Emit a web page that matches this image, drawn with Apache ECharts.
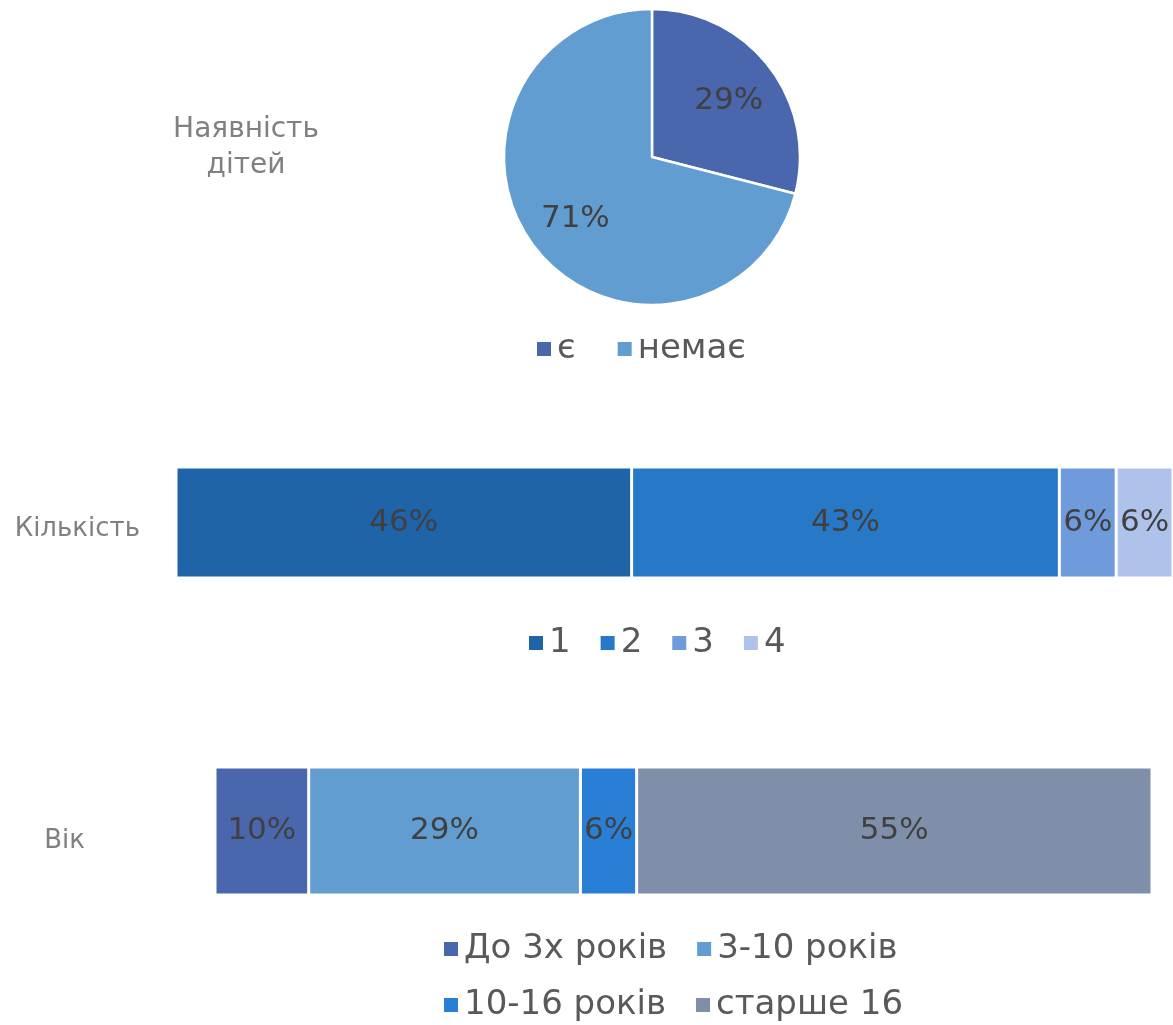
<!DOCTYPE html>
<html>
<head>
<meta charset="utf-8">
<script src="https://cdn.jsdelivr.net/npm/echarts@6/dist/echarts.min.js"></script>
<style>
html,body{margin:0;padding:0;background:#fff;}
#c{width:1173px;height:1025px;}
</style>
</head>
<body>
<div id="c"></div>
<script>
// Data
const pieNames = ['є', 'немає'];
const pieValues = [29, 71];

const countCategory = ['Кількість'];
const countNames = ['1', '2', '3', '4'];
const countValues = [45.7, 42.9, 5.7, 5.7];

const ageCategory = ['Вік'];
const ageNames = ['До 3х років', '3-10 років', '10-16 років', 'старше 16'];
const ageValues = [10, 29, 6, 55];

const pieColors = ['#4A66AC', '#629DD1'];
const countColors = ['#1F63A8', '#2878C8', '#6F9BDC', '#AFC3EA'];
const ageColors = ['#4A66AC', '#629DD1', '#297FD5', '#7F8FA9'];

const FONT = 'DejaVu Sans';
const pct = p => Math.round(p.value) + '%';
const labelStyle = { show: true, position: 'inside', formatter: pct, fontFamily: FONT, fontSize: 31, color: '#404040' };

const chart = echarts.init(document.getElementById('c'));

const series = [];
series.push({
  type: 'pie', center: [652, 157], radius: 148, startAngle: 90, clockwise: true,
  label: { show: false }, labelLine: { show: false }, silent: true,
  itemStyle: { borderColor: '#fff', borderWidth: 2.5 },
  data: pieNames.map((n, i) => ({ name: n, value: pieValues[i], itemStyle: { color: pieColors[i] } }))
});
series.push({
  type: 'pie', center: [652, 160], radius: [40, 148], startAngle: 90, clockwise: true, silent: true,
  label: { show: true, position: 'inside', formatter: pct, fontFamily: FONT, fontSize: 31, color: '#404040' },
  labelLine: { show: false },
  itemStyle: { color: 'rgba(0,0,0,0)' },
  data: pieNames.map((n, i) => ({ name: n + ' ', value: pieValues[i] }))
});
countNames.forEach((n, i) => series.push({
  type: 'bar', name: n, stack: 'count', xAxisIndex: 0, yAxisIndex: 0, barWidth: 111,
  itemStyle: { color: countColors[i], borderColor: '#fff', borderWidth: 1.5 },
  label: labelStyle, data: [countValues[i]]
}));
ageNames.forEach((n, i) => series.push({
  type: 'bar', name: n, stack: 'age', xAxisIndex: 1, yAxisIndex: 1, barWidth: 128,
  itemStyle: { color: ageColors[i], borderColor: '#fff', borderWidth: 1.5 },
  label: labelStyle, data: [ageValues[i]]
}));

const legendText = { fontFamily: FONT, fontSize: 34, color: '#595959' };
const legendBase = { icon: 'rect', itemWidth: 16, itemHeight: 16, textStyle: legendText, selectedMode: false };

chart.setOption({
  animation: false,
  backgroundColor: '#fff',
  title: {
    text: 'Наявність\nдітей', left: 241, top: 107, textAlign: 'center',
    textStyle: { fontFamily: FONT, fontSize: 28, lineHeight: 36, fontWeight: 'normal', color: '#808080' }
  },
  legend: [
    Object.assign({}, legendBase, { data: pieNames, left: 530, top: 327, itemGap: 40 }),
    Object.assign({}, legendBase, { data: countNames, left: 522, top: 621, itemGap: 28 }),
    Object.assign({}, legendBase, { data: ageNames.slice(0, 2), left: 437, top: 927, itemGap: 28 }),
    Object.assign({}, legendBase, { data: ageNames.slice(2), left: 437, top: 983, itemGap: 28 })
  ],
  grid: [
    { left: 176, top: 467, width: 997, height: 111 },
    { left: 215, top: 767, width: 937, height: 128 }
  ],
  xAxis: [
    { gridIndex: 0, type: 'value', min: 0, max: 100, show: false },
    { gridIndex: 1, type: 'value', min: 0, max: 100, show: false }
  ],
  yAxis: [
    { gridIndex: 0, type: 'category', data: countCategory, axisLine: { show: false }, axisTick: { show: false },
      axisLabel: { margin: 36, formatter: '{a|{value}}',
        rich: { a: { fontFamily: FONT, fontSize: 26, color: '#808080', padding: [14, 0, 0, 0] } } } },
    { gridIndex: 1, type: 'category', data: ageCategory, axisLine: { show: false }, axisTick: { show: false },
      axisLabel: { margin: 130, formatter: '{a|{value}}',
        rich: { a: { fontFamily: FONT, fontSize: 26, color: '#808080', padding: [20, 0, 0, 0] } } } }
  ],
  series: series
});
</script>
</body>
</html>
